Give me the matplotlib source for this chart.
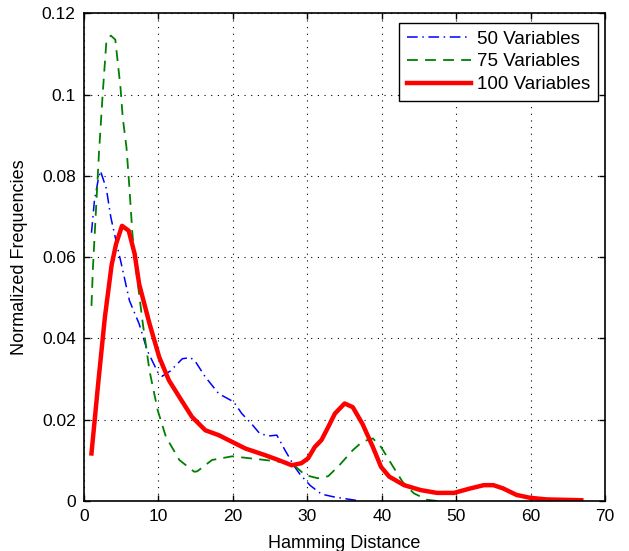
import matplotlib
matplotlib.use('Agg')
import matplotlib.pyplot as plt

plt.rcParams['font.family'] = ['Liberation Sans', 'DejaVu Sans']

# 50 variables (blue, dash-dot)
x50 = [1.0, 1.4, 1.9, 2.2, 2.5, 3.0, 3.6, 4.3, 5.0, 6.1, 7.4, 8.5, 9.9, 10.5, 11.6,
       13.2, 14.3, 15.0, 16.3, 18.1, 20.1, 21.2, 22.5, 23.6, 24.8, 25.9, 27.0, 28.3,
       29.0, 30.4, 31.9, 33.6, 35.0, 36.8]
y50 = [0.066, 0.074, 0.079, 0.0812, 0.0796, 0.0768, 0.0698, 0.064, 0.0584, 0.0493,
       0.0436, 0.037, 0.0317, 0.0307, 0.032, 0.035, 0.0353, 0.0342, 0.0305, 0.0264,
       0.0244, 0.0215, 0.019, 0.0166, 0.016, 0.0162, 0.0125, 0.0084, 0.0066, 0.0038,
       0.0017, 0.001, 0.0006, 0.0001]

# 75 variables (green, dashed)
x75 = [1.0, 1.2, 2.0, 2.5, 3.0, 3.6, 4.2, 4.9, 5.2, 5.7, 6.1, 6.5, 7.0, 7.9, 8.8,
       9.9, 11.0, 12.8, 14.8, 15.2, 17.2, 19.9, 24.3, 27.9, 29.7, 31.4, 32.8, 34.3,
       36.1, 37.4, 38.8, 39.9, 41.4, 42.8, 44.3, 46.1, 47.5]
y75 = [0.048, 0.0575, 0.0854, 0.100, 0.113, 0.1145, 0.1135, 0.1017, 0.0943, 0.087,
       0.077, 0.0657, 0.0567, 0.0436, 0.032, 0.0223, 0.0158, 0.0101, 0.0072, 0.0073,
       0.0101, 0.011, 0.0101, 0.0093, 0.0064, 0.0056, 0.0061, 0.0088, 0.0125, 0.0146,
       0.0154, 0.0133, 0.0088, 0.0047, 0.0019, 0.0003, 0.0]

# 100 variables (red, solid)
x100 = [1.0, 1.9, 2.8, 3.7, 4.3, 5.1, 6.0, 6.8, 7.4, 8.8, 10.1, 11.4, 12.8, 14.5,
        16.3, 18.1, 19.4, 21.7, 24.3, 26.1, 27.9, 29.2, 30.1, 31.0, 31.9, 32.8, 33.7,
        35.0, 36.1, 37.4, 38.8, 39.9, 41.0, 43.0, 45.2, 47.4, 49.7, 51.9, 53.7, 55.0,
        56.3, 58.1, 59.9, 62.1, 66.8]
y100 = [0.0117, 0.0289, 0.0452, 0.058, 0.0632, 0.0677, 0.0665, 0.0608, 0.0534, 0.0436,
        0.0354, 0.0297, 0.0256, 0.0207, 0.0174, 0.0162, 0.015, 0.0129, 0.0113, 0.0101,
        0.0088, 0.0093, 0.0105, 0.0133, 0.015, 0.0182, 0.0215, 0.024, 0.0231, 0.019,
        0.0133, 0.0084, 0.006, 0.0039, 0.0027, 0.002, 0.002, 0.0031, 0.0039, 0.0039,
        0.0031, 0.0015, 0.0008, 0.0004, 0.0002]

fig = plt.figure(figsize=(6.29, 5.51), dpi=100)
ax = fig.add_axes([0.1336, 0.0907, 0.8284, 0.8853])

ax.plot(x50, y50, color='#0000ff', linewidth=1.1, dashes=(7, 3, 1, 3),
        label='50 Variables')
ax.plot(x75, y75, color='#008000', linewidth=1.3, dashes=(6, 4),
        label='75 Variables')
ax.plot(x100, y100, color='#ff0000', linestyle='-', linewidth=3.2, label='100 Variables')

ax.set_xlim(0, 70)
ax.set_ylim(0, 0.12)
ax.set_xticks(range(0, 71, 10))
ax.set_yticks([0, 0.02, 0.04, 0.06, 0.08, 0.1, 0.12])
ax.set_yticklabels(['0', '0.02', '0.04', '0.06', '0.08', '0.1', '0.12'])
ax.tick_params(direction='in', length=4, labelsize=12.5, top=True, right=True,
               width=1, pad=6)
ax.grid(True, color='black', linestyle=(0, (1, 5)), linewidth=0.8)
for s in ax.spines.values():
    s.set_linewidth(1.2)

ax.set_xlabel('Hamming Distance', fontsize=13, labelpad=8)
ax.set_ylabel('Normalized Frequencies', fontsize=13, labelpad=10)

leg = ax.legend(loc='upper right', bbox_to_anchor=(598 / 629, 1 - 23 / 551),
                bbox_transform=fig.transFigure, borderaxespad=0,
                fontsize=13.5, fancybox=False, framealpha=1,
                edgecolor='black', handlelength=3.4, borderpad=0.4,
                labelspacing=0.3, handletextpad=0.35)
leg.get_frame().set_linewidth(1.0)

fig.savefig('out.png', dpi=100)
